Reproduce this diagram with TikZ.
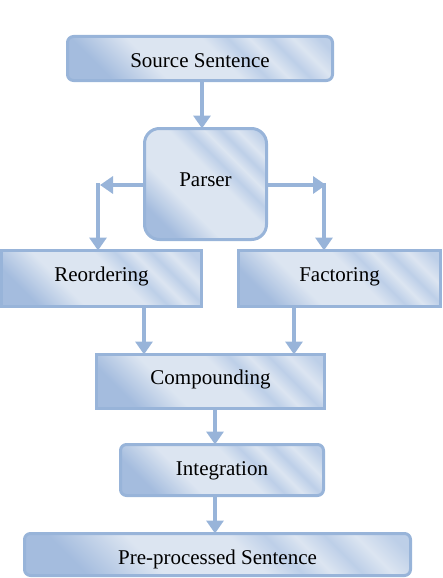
\documentclass[tikz,border=0pt]{standalone}
\usepackage{fontspec}
\setmainfont{Liberation Serif}
\usetikzlibrary{arrows.meta}
\definecolor{bborder}{HTML}{98B4D9}
\definecolor{blight}{HTML}{DCE5F1}
\definecolor{bdark}{HTML}{A4BCDE}
\definecolor{bmid}{HTML}{BDCFE8}
\pgfdeclarehorizontalshading{boxshade}{100bp}{color(0bp)=(bdark); color(25bp)=(bdark); color(38bp)=(blight); color(55bp)=(blight); color(61bp)=(bmid); color(66bp)=(blight); color(71bp)=(bmid); color(76bp)=(blight); color(82bp)=(bmid); color(100bp)=(bmid)}
\begin{document}
\begin{tikzpicture}[x=1pt,y=-1pt,
  box/.style={draw=bborder, line width=3pt, shading=boxshade, shading angle=45,
    inner sep=0pt, outer sep=0pt, font=\fontsize{21}{25}\selectfont, text depth=5pt},
  arr/.style={draw=bborder, line width=4pt, -{Triangle[width=17pt,length=13pt]}}]
\useasboundingbox (0,0) rectangle (442,578);
\node[box, rounded corners=6pt, minimum width=265pt, minimum height=44pt, text height=23pt] (src) at (200,58.5) {Source Sentence};
\node[box, rounded corners=15pt, minimum width=122pt, minimum height=111pt, text height=10pt] (parser) at (205.5,184) {Parser};
\node[box, minimum width=200pt, minimum height=56pt, text height=11pt] (reord) at (101.5,278.5) {Reordering};
\node[box, minimum width=202pt, minimum height=56pt, text height=11pt] (fact) at (339.5,278.5) {Factoring};
\node[box, minimum width=228pt, minimum height=54pt, text height=10pt] (comp) at (210.5,381.5) {Compounding};
\node[box, rounded corners=6pt, minimum width=203pt, minimum height=51pt, text height=16.4pt] (integ) at (222,470) {Integration};
\node[box, rounded corners=6pt, minimum width=386pt, minimum height=42pt, text height=24pt] (pre) at (217.5,554.5) {Pre-processed Sentence};
\coordinate (x202) at (202,0);
\coordinate (x144) at (144,0);
\coordinate (x294) at (294,0);
\coordinate (x215) at (215,0);
\coordinate (tL) at (100,185);
\coordinate (cL) at (98,183);
\coordinate (tR) at (326,185);
\coordinate (cR) at (324,183);
\draw[arr] (src.south -| x202) -- (parser.north -| x202);
\draw[arr] (parser.west |- tL) -- (tL);
\draw[arr] (cL) -- (reord.north -| cL);
\draw[arr] (parser.east |- tR) -- (tR);
\draw[arr] (cR) -- (fact.north -| cR);
\draw[arr] (reord.south -| x144) -- (comp.north -| x144);
\draw[arr] (fact.south -| x294) -- (comp.north -| x294);
\draw[arr] (comp.south -| x215) -- (integ.north -| x215);
\draw[arr] (integ.south -| x215) -- (pre.north -| x215);
\end{tikzpicture}
\end{document}
